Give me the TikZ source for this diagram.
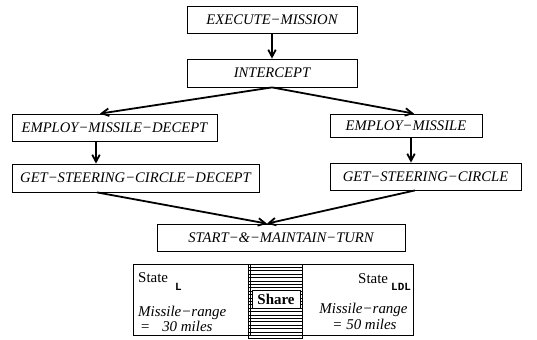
\documentclass[tikz,border=0pt]{standalone}
\usepackage{fontspec}
\setmainfont{Liberation Serif}
\newfontfamily\codefont{Liberation Mono}
\usetikzlibrary{arrows.meta}
\begin{document}
\begin{tikzpicture}[x=1bp, y=-1bp,
  box/.style={draw=black, line width=0.8bp, inner sep=0pt,
    font=\fontsize{14.7}{17}\selectfont\itshape, anchor=center},
  flow/.style={line width=1.8bp, -{Straight Barb[length=7bp,width=7.5bp]}},
  frame/.style={draw=black, line width=0.8bp, inner sep=0pt, anchor=center},
  txt/.style={inner sep=0pt, anchor=base west, font=\fontsize{15}{18}\selectfont},
  itxt/.style={txt, font=\fontsize{15}{18}\selectfont\itshape},
  sub/.style={inner sep=0pt, anchor=base west, font=\codefont\bfseries\fontsize{11}{12}\selectfont}]
\useasboundingbox (0,0) rectangle (537,339);

% goal tree
\node[box, minimum width=170bp, minimum height=27bp] (exec) at (272,19.5) {EXECUTE−MISSION};
\node[box, minimum width=170bp, minimum height=28bp] (icpt) at (272,73) {INTERCEPT};
\node[box, minimum width=205bp, minimum height=27bp] (emd) at (114.5,127.5) {EMPLOY−MISSILE−DECEPT};
\node[box, minimum width=152bp, minimum height=23bp] (em) at (406,125.5) {EMPLOY−MISSILE};
\node[box, minimum width=247bp, minimum height=28bp] (gscd) at (135.5,178) {GET−STEERING−CIRCLE−DECEPT};
\node[box, minimum width=191bp, minimum height=27bp] (gsc) at (425.5,176.5) {GET−STEERING−CIRCLE};
\node[box, minimum width=248bp, minimum height=27bp] (smt) at (281,237.5) {START−\&−MAINTAIN−TURN};

\draw[flow] (exec.south) -- (icpt.north);
\draw[flow] (icpt.south) -- ([xshift=-14.5bp]emd.north);
\draw[flow] (icpt.south) -- ([xshift=8bp]em.north);
\draw[flow] ([xshift=-18.5bp]emd.south) -- ([xshift=-39.5bp]gscd.north);
\draw[flow] ([xshift=5bp]em.south) -- ([xshift=-14.5bp]gsc.north);
\draw[flow] ([xshift=-38.5bp]gscd.south) -- ([xshift=-14bp]smt.north);
\draw[flow] ([xshift=-10.5bp]gsc.south) -- ([xshift=-14bp]smt.north);

% shared region between the two states
\node[frame, minimum width=54bp, minimum height=74.5bp] (shcol) at (275,301.25) {};
\foreach \yy in {267.4,270.8,...,338} \draw[line width=0.7bp] (shcol.west |- 0,\yy) -- (shcol.east |- 0,\yy);
\node[frame, minimum width=117bp, minimum height=71bp] (stl) at (191.5,299.5) {};
\node[frame, minimum width=111bp, minimum height=71bp] (stldl) at (357.5,299.5) {};
\node[frame, fill=white, minimum width=48bp, minimum height=18bp,
  font=\fontsize{15}{18}\selectfont\bfseries] (share) at (276,299) {Share};

% state L
\node[txt] (stlab) at (138,282) {State};
\node[sub] (stsub) at (175,290) {L};
\node[itxt] (mrl) at (138,316) {Missile−range};
\node[itxt] (eql) at (140,331) {=\hspace{12bp}30 miles};

% state LDL
\node[txt] (stlab2) at (358,283) {State};
\node[sub] (stsub2) at (391,290) {LDL};
\node[itxt, anchor=base] (mrr) at (363.5,313) {Missile−range};
\node[itxt, anchor=base] (eqr) at (364.5,329) {= 50 miles};
\end{tikzpicture}
\end{document}
